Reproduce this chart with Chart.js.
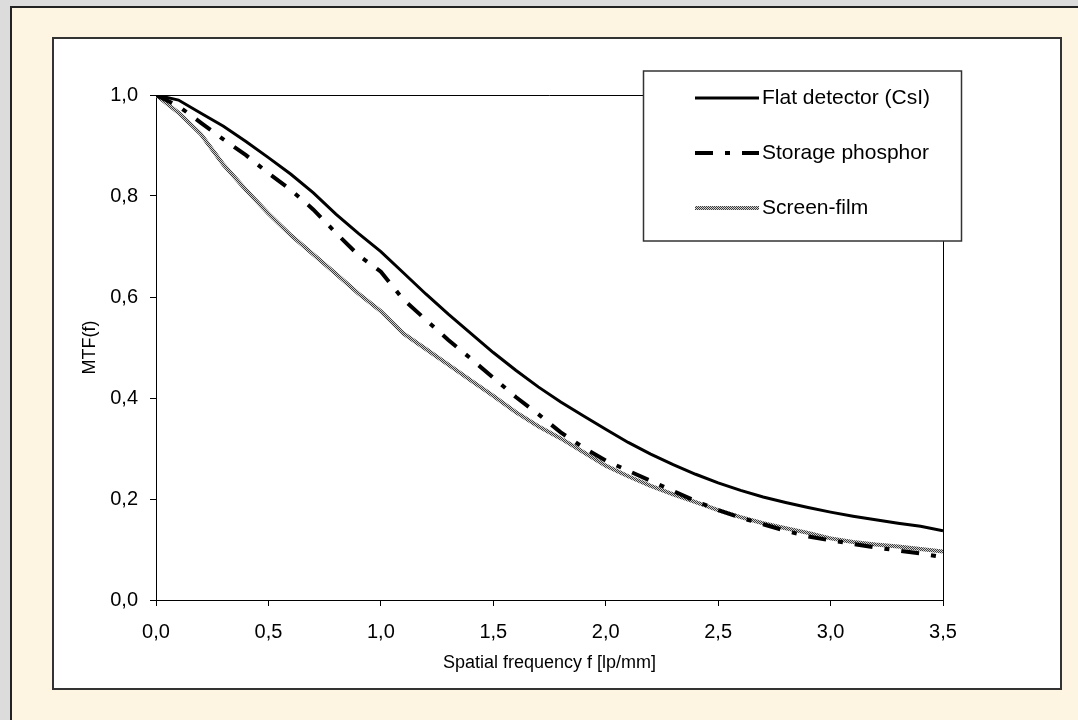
<!DOCTYPE html>
<html>
<head>
<meta charset="utf-8">
<script src="https://cdn.jsdelivr.net/npm/chart.js@4/dist/chart.umd.min.js"></script>
<style>
  html, body { margin: 0; padding: 0; background: #dcdcdc; }
  #wrap { width: 1078px; height: 720px; position: relative; }
</style>
</head>
<body>
<div id="wrap"><canvas id="mtf_chart" width="1078" height="720"></canvas></div>
<script>
// spatial frequency [lp/mm]
const freq = [0.0, 0.1, 0.2, 0.3, 0.4, 0.5, 0.6, 0.7, 0.8, 0.9,
              1.0, 1.1, 1.2, 1.3, 1.4, 1.5, 1.6, 1.7, 1.8, 1.9,
              2.0, 2.1, 2.2, 2.3, 2.4, 2.5, 2.6, 2.7, 2.8, 2.9,
              3.0, 3.1, 3.2, 3.3, 3.4, 3.5];

const flatDetector = [1.000, 0.990, 0.964, 0.938, 0.908, 0.876, 0.843, 0.806, 0.764, 0.726,
                      0.690, 0.648, 0.606, 0.566, 0.528, 0.490, 0.455, 0.422, 0.392, 0.365,
                      0.338, 0.312, 0.289, 0.268, 0.249, 0.232, 0.217, 0.204, 0.193, 0.183,
                      0.174, 0.166, 0.159, 0.152, 0.146, 0.137];

const storagePhosphor = [1.000, 0.978, 0.945, 0.912, 0.881, 0.845, 0.812, 0.773, 0.727, 0.683,
                         0.650, 0.595, 0.555, 0.515, 0.478, 0.440, 0.402, 0.368, 0.332, 0.302,
                         0.276, 0.256, 0.236, 0.216, 0.196, 0.178, 0.163, 0.150, 0.137, 0.126,
                         0.118, 0.111, 0.104, 0.098, 0.092, 0.085];

const screenFilm = [1.000, 0.965, 0.922, 0.862, 0.812, 0.765, 0.722, 0.684, 0.646, 0.607,
                    0.572, 0.528, 0.497, 0.466, 0.435, 0.404, 0.372, 0.344, 0.320, 0.293,
                    0.266, 0.245, 0.226, 0.209, 0.194, 0.178, 0.164, 0.152, 0.142, 0.133,
                    0.122, 0.115, 0.110, 0.106, 0.101, 0.096];

const xTicks = [0, 0.5, 1.0, 1.5, 2.0, 2.5, 3.0, 3.5];
const xTickLabels = ['0,0', '0,5', '1,0', '1,5', '2,0', '2,5', '3,0', '3,5'];
const yTicks = [0, 0.2, 0.4, 0.6, 0.8, 1.0];
const yTickLabels = ['0,0', '0,2', '0,4', '0,6', '0,8', '1,0'];

const FONT = "'Liberation Sans', Arial, sans-serif";

// grainy gray stroke like the screen-film line
const pc = document.createElement('canvas');
pc.width = 2; pc.height = 2;
const pctx = pc.getContext('2d');
pctx.fillStyle = '#d0d0d0'; pctx.fillRect(0, 0, 2, 2);
pctx.fillStyle = '#3c3c3c'; pctx.fillRect(0, 0, 1, 1); pctx.fillRect(1, 1, 1, 1);
const filmPattern = pctx.createPattern(pc, 'repeat');

const toXY = vals => freq.map((f, i) => ({ x: f, y: vals[i] }));

const framePlugin = {
  id: 'frame',
  beforeDraw(chart) {
    const c = chart.ctx;
    c.save();
    c.fillStyle = '#dcdcdc';
    c.fillRect(0, 0, 1078, 720);
    c.fillStyle = '#fef4e2';
    c.fillRect(11, 7, 1067, 713);
    c.strokeStyle = '#222';
    c.lineWidth = 2;
    c.beginPath();
    c.moveTo(11, 720); c.lineTo(11, 7); c.lineTo(1078, 7);
    c.stroke();
    c.fillStyle = '#fff';
    c.fillRect(53, 38, 1008, 651);
    c.strokeStyle = '#333';
    c.strokeRect(53, 38, 1008, 651);
    c.restore();
  },
  afterDraw(chart) {
    const c = chart.ctx;
    const a = chart.chartArea;
    c.save();
    c.strokeStyle = '#000';
    c.lineWidth = 1;
    c.beginPath();
    c.moveTo(a.left, a.top + 0.5); c.lineTo(a.right + 0.5, a.top + 0.5); c.lineTo(a.right + 0.5, a.bottom);
    c.stroke();

    // legend box
    c.fillStyle = '#fff';
    c.fillRect(643, 71, 319, 170);
    c.strokeStyle = '#333';
    c.lineWidth = 1.5;
    c.strokeRect(643.5, 71, 318, 170);
    const rows = [98, 153, 208];
    chart.data.datasets.forEach((ds, i) => {
      const y = rows[i];
      c.beginPath();
      c.strokeStyle = ds.borderColor;
      c.lineWidth = ds.borderWidth;
      c.setLineDash(ds.borderDash || []);
      c.moveTo(695, y); c.lineTo(759, y);
      c.stroke();
      c.setLineDash([]);
      c.fillStyle = '#000';
      c.font = '21px ' + FONT;
      c.textBaseline = 'middle';
      c.textAlign = 'left';
      c.fillText(ds.label, 762, y);
    });
    c.restore();
  }
};

new Chart(document.getElementById('mtf_chart'), {
  type: 'line',
  data: {
    datasets: [
      {
        label: 'Flat detector (CsI)',
        data: toXY(flatDetector),
        borderColor: '#000',
        borderWidth: 3
      },
      {
        label: 'Storage phosphor',
        data: toXY(storagePhosphor),
        borderColor: '#000',
        borderWidth: 4,
        borderDash: [18, 12, 5, 12]
      },
      {
        label: 'Screen-film',
        data: toXY(screenFilm),
        borderColor: filmPattern,
        borderWidth: 4
      }
    ]
  },
  options: {
    responsive: false,
    animation: false,
    layout: { padding: { left: 78, top: 95, right: 135, bottom: 42 } },
    elements: { point: { radius: 0 }, line: { tension: 0, borderCapStyle: 'butt' } },
    plugins: {
      legend: { display: false },
      tooltip: { enabled: false }
    },
    scales: {
      x: {
        type: 'linear',
        min: 0,
        max: 3.5,
        afterFit: s => { s.height = 78; },
        afterBuildTicks: s => { s.ticks = xTicks.map(v => ({ value: v })); },
        grid: { drawOnChartArea: false, drawTicks: true, tickLength: 6, color: '#000' },
        border: { display: true, color: '#000', width: 1 },
        ticks: {
          color: '#000',
          padding: 14,
          maxRotation: 0,
          font: { family: FONT, size: 20 },
          callback: (v, i) => xTickLabels[i]
        },
        title: {
          display: true,
          text: 'Spatial frequency f [lp/mm]',
          color: '#000',
          padding: { top: 0, bottom: 4 },
          font: { family: FONT, size: 18 }
        }
      },
      y: {
        min: 0,
        max: 1.0,
        afterFit: s => { s.width = 78; },
        afterBuildTicks: s => { s.ticks = yTicks.map(v => ({ value: v })); },
        grid: { drawOnChartArea: false, drawTicks: true, tickLength: 6, color: '#000' },
        border: { display: true, color: '#000', width: 1 },
        ticks: {
          color: '#000',
          padding: 12,
          font: { family: FONT, size: 20 },
          callback: (v, i) => yTickLabels[i]
        },
        title: {
          display: true,
          text: 'MTF(f)',
          color: '#000',
          padding: { top: 1, bottom: 0 },
          font: { family: FONT, size: 18 }
        }
      }
    }
  },
  plugins: [framePlugin]
});
</script>
</body>
</html>
